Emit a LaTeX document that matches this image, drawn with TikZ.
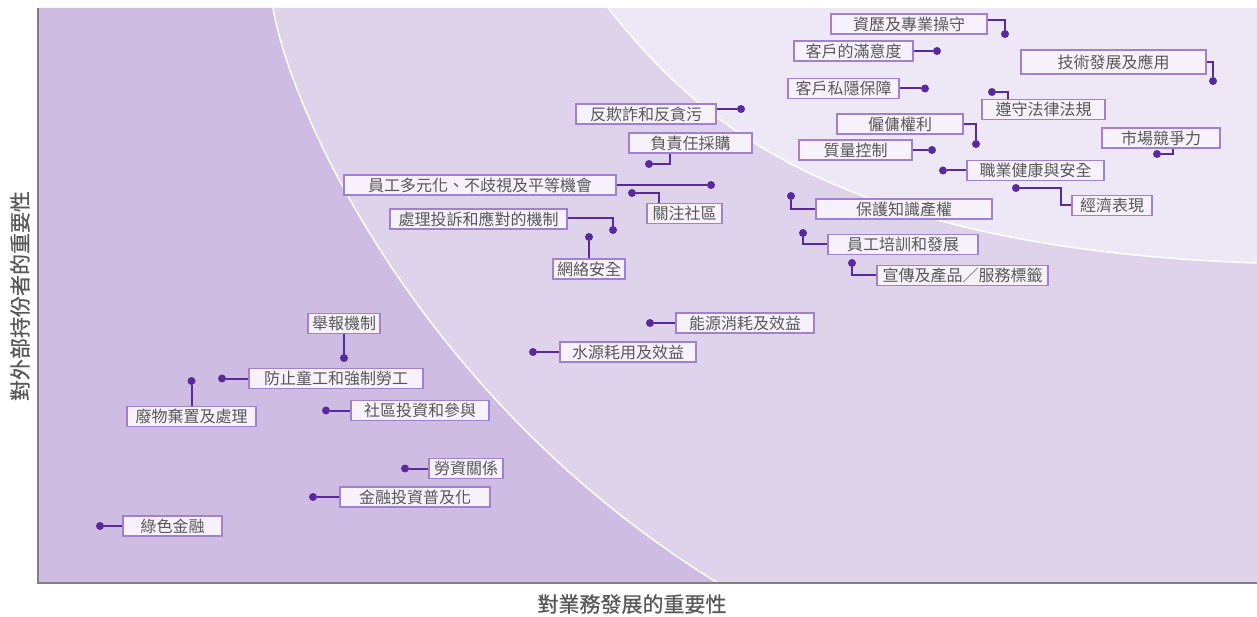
\documentclass[tikz,border=0pt]{standalone}
\usepackage{fontspec}
\setmainfont{Noto Sans CJK TC}
\newfontfamily\axisfont[FakeBold=0.7]{Noto Sans CJK TC}
\definecolor{regA}{RGB}{207,188,226}
\definecolor{regB}{RGB}{223,210,235}
\definecolor{regC}{RGB}{238,231,245}
\definecolor{boxfill}{RGB}{246,241,250}
\definecolor{boxline}{RGB}{160,128,208}
\definecolor{linkcol}{RGB}{88,42,156}
\definecolor{txtgray}{RGB}{88,88,88}
\definecolor{axisgray}{RGB}{128,128,128}
\begin{document}
\begin{tikzpicture}[x=1pt,y=-1pt,
	lbl/.style={draw=boxline,fill=boxfill,line width=1.5pt,minimum height=20pt,inner sep=0pt,text=txtgray,font=\fontsize{16}{18}\selectfont},
	mdot/.style={circle,fill=linkcol,inner sep=0pt,minimum size=8pt},
	link/.style={draw=linkcol,line width=2pt},
	axlbl/.style={text=txtgray,font=\axisfont\fontsize{21}{24}\selectfont}]
		\useasboundingbox (0,0) rectangle (1257,617);
		\fill[regC] (38,8) rectangle (1257,583);
		\fill[regB] (38,8) -- (608,8) .. controls (690,110) and (820,248) .. (1257,263) -- (1257,583) -- (38,583) -- cycle;
		\fill[regA] (38,8) -- (273,8) .. controls (290,110) and (420,400) .. (718,583) -- (38,583) -- cycle;
		\draw[white,line width=1.5pt] (608,8) .. controls (690,110) and (820,248) .. (1257,263);
		\draw[white,line width=1.5pt] (273,8) .. controls (290,110) and (420,400) .. (718,583);
		\draw[axisgray,line width=2pt] (38,8) -- (38,583) -- (1257,583);
		\node[axlbl] (xlab) at (632,604) {對業務發展的重要性};
		\node[axlbl,rotate=90] (ylab) at (20,296) {對外部持份者的重要性};

		\node[lbl,minimum width=156pt] (l1) at (909,24) {資歷及專業操守};
		\node[lbl,minimum width=119pt] (l2) at (853.5,51) {客戶的滿意度};
		\node[lbl,minimum width=185pt,minimum height=24pt] (l3) at (1113.5,62) {技術發展及應用};
		\node[lbl,minimum width=111pt] (l4) at (843.5,88.5) {客戶私隱保障};
		\node[lbl,minimum width=123pt] (l5) at (1043.5,109.5) {遵守法律法規};
		\node[lbl,minimum width=126pt] (l6) at (900,124) {僱傭權利};
		\node[lbl,minimum width=113pt] (l7) at (855.5,150) {質量控制};
		\node[lbl,minimum width=118pt] (l8) at (1161,138) {市場競爭力};
		\node[lbl,minimum width=137pt] (l9) at (1035.5,170.5) {職業健康與安全};
		\node[lbl,minimum width=80pt] (l10) at (1112,205.5) {經濟表現};
		\node[lbl,minimum width=176pt] (l11) at (904,209) {保護知識產權};
		\node[lbl,minimum width=150pt] (l12) at (903,244.5) {員工培訓和發展};
		\node[lbl,minimum width=171pt] (l13) at (962.5,275.5) {宣傳及產品／服務標籤};
		\node[lbl,minimum width=140pt] (l14) at (646,114) {反欺詐和反貪污};
		\node[lbl,minimum width=123pt] (l15) at (690.5,143) {負責任採購};
		\node[lbl,minimum width=272pt] (l16) at (480,185) {員工多元化、不歧視及平等機會};
		\node[lbl,minimum width=75pt] (l17) at (684.5,213.5) {關注社區};
		\node[lbl,minimum width=177pt] (l18) at (478.5,219) {處理投訴和應對的機制};
		\node[lbl,minimum width=72pt] (l19) at (589,269) {網絡安全};
		\node[lbl,minimum width=72pt] (l20) at (344,323.5) {舉報機制};
		\node[lbl,minimum width=138pt] (l21) at (745,323) {能源消耗及效益};
		\node[lbl,minimum width=136pt] (l22) at (628,352) {水源耗用及效益};
		\node[lbl,minimum width=174pt] (l23) at (336,378.5) {防止童工和強制勞工};
		\node[lbl,minimum width=129pt] (l24) at (191.5,416.5) {廢物棄置及處理};
		\node[lbl,minimum width=138pt] (l25) at (420,410.5) {社區投資和參與};
		\node[lbl,minimum width=74pt] (l26) at (466,468.5) {勞資關係};
		\node[lbl,minimum width=150pt] (l27) at (415,497) {金融投資普及化};
		\node[lbl,minimum width=99pt] (l28) at (172.5,526) {綠色金融};

		\node[mdot] (d1) at (1005,34) {};
		\node[mdot] (d2) at (937,51) {};
		\node[mdot] (d3) at (1213,81) {};
		\node[mdot] (d4) at (925,88.5) {};
		\node[mdot] (d5) at (992,92) {};
		\node[mdot] (d6) at (976,144) {};
		\node[mdot] (d7) at (932,150) {};
		\node[mdot] (d8) at (1157,154) {};
		\node[mdot] (d9) at (943,170.5) {};
		\node[mdot] (d10) at (1016,188) {};
		\node[mdot] (d11) at (791,196) {};
		\node[mdot] (d12) at (803,233) {};
		\node[mdot] (d13) at (852,263) {};
		\node[mdot] (d14) at (741,109) {};
		\node[mdot] (d15) at (649,164) {};
		\node[mdot] (d16) at (711,185) {};
		\node[mdot] (d17) at (632,193) {};
		\node[mdot] (d18) at (613,230) {};
		\node[mdot] (d19) at (589,237) {};
		\node[mdot] (d20) at (344,358) {};
		\node[mdot] (d21) at (650,323) {};
		\node[mdot] (d22) at (533,352) {};
		\node[mdot] (d23) at (222,378.5) {};
		\node[mdot] (d24) at (191.5,381) {};
		\node[mdot] (d25) at (326,410.5) {};
		\node[mdot] (d26) at (405,468.5) {};
		\node[mdot] (d27) at (313,497) {};
		\node[mdot] (d28) at (100,526) {};

		\path[link] ([yshift=4pt]l1.east) -| (d1);
		\path[link] (d2 -| l2.east) -- (d2);
		\path[link] (l3.east) -| (d3);
		\path[link] (d4 -| l4.east) -- (d4);
		\path[link] (d5) -| ([xshift=-35.5pt]l5.north);
		\path[link] (l6.east) -| (d6);
		\path[link] (d7 -| l7.east) -- (d7);
		\path[link] ([xshift=12pt]l8.south) |- (d8);
		\path[link] (d9 -| l9.west) -- (d9);
		\path[link] (l10.west) -- ++(-10,0) |- (d10);
		\path[link] (l11.west) -| (d11);
		\path[link] (l12.west) -| (d12);
		\path[link] (l13.west) -| (d13);
		\path[link] (d14 -| l14.east) -- (d14);
		\path[link] ([xshift=-20.5pt]l15.south) |- (d15);
		\path[link] (d16 -| l16.east) -- (d16);
		\path[link] ([xshift=-25.5pt]l17.north) |- (d17);
		\path[link] ([yshift=1pt]l18.east) -| (d18);
		\path[link] (l19.north) -- (d19);
		\path[link] (l20.south) -- (d20);
		\path[link] (d21 -| l21.west) -- (d21);
		\path[link] (d22 -| l22.west) -- (d22);
		\path[link] (d23 -| l23.west) -- (d23);
		\path[link] (l24.north) -- (d24);
		\path[link] (d25 -| l25.west) -- (d25);
		\path[link] (d26 -| l26.west) -- (d26);
		\path[link] (d27 -| l27.west) -- (d27);
		\path[link] (d28 -| l28.west) -- (d28);
		
\end{tikzpicture}
\end{document}
